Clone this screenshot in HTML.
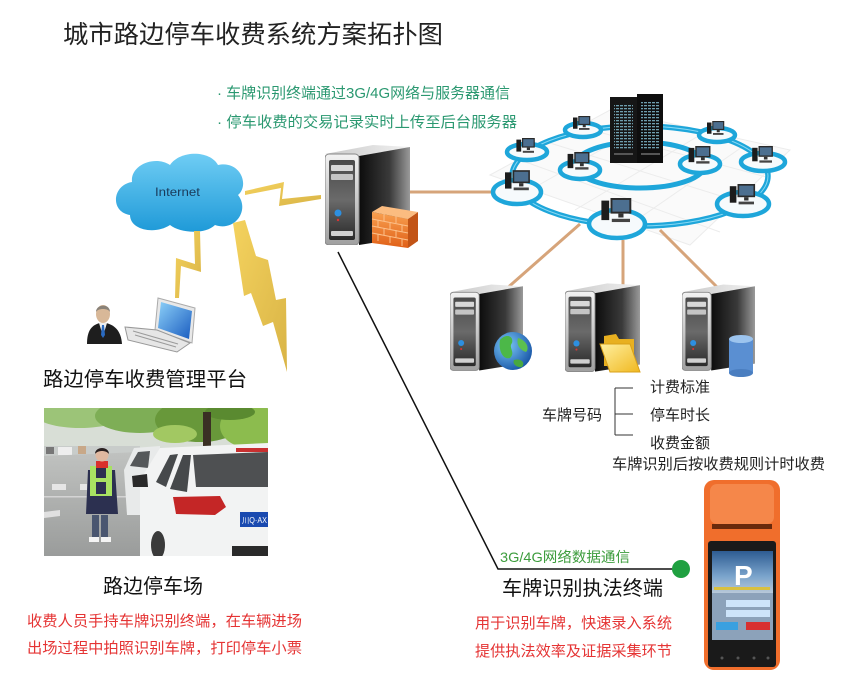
<!DOCTYPE html>
<html><head><meta charset="utf-8">
<style>
html,body{margin:0;padding:0;background:#fff;}
svg{display:block}
text{font-family:"Liberation Sans","Noto Sans CJK SC",sans-serif;}
</style></head><body>
<svg width="850" height="691" viewBox="0 0 850 691" xmlns="http://www.w3.org/2000/svg">
<defs>
 <linearGradient id="gTop" x1="0" y1="0" x2="1" y2="0"><stop offset="0" stop-color="#c8c8c8"/><stop offset="1" stop-color="#f2f2f2"/></linearGradient>
 <linearGradient id="gSide" x1="0" y1="0" x2="1" y2="0"><stop offset="0" stop-color="#0c0c0c"/><stop offset="0.6" stop-color="#3a3a3a"/><stop offset="1" stop-color="#9a9a9a"/></linearGradient>
 <linearGradient id="gFront" x1="0" y1="0" x2="0" y2="1"><stop offset="0" stop-color="#f2f2f2"/><stop offset="1" stop-color="#a0a0a0"/></linearGradient>
 <linearGradient id="gInner" x1="0" y1="0" x2="0" y2="1"><stop offset="0" stop-color="#4a4a4a"/><stop offset="0.5" stop-color="#6a6a6a"/><stop offset="1" stop-color="#2a2a2a"/></linearGradient>
 <linearGradient id="gCloud" x1="0" y1="0" x2="0" y2="1"><stop offset="0" stop-color="#6fcdf4"/><stop offset="1" stop-color="#1f9ad8"/></linearGradient>
 <linearGradient id="gBolt" x1="0" y1="0" x2="1" y2="1"><stop offset="0" stop-color="#f4d25e"/><stop offset="1" stop-color="#d9b446"/></linearGradient>
 <linearGradient id="gFire" x1="0" y1="0" x2="0" y2="1"><stop offset="0" stop-color="#f8a050"/><stop offset="1" stop-color="#e06018"/></linearGradient>
 <linearGradient id="gScreen" x1="0" y1="0" x2="1" y2="1"><stop offset="0" stop-color="#8cd0f8"/><stop offset="1" stop-color="#1a5cc0"/></linearGradient>
 <linearGradient id="gSky" x1="0" y1="0" x2="0" y2="1"><stop offset="0" stop-color="#2e5c92"/><stop offset="0.6" stop-color="#7aa4cc"/><stop offset="1" stop-color="#b8c8d8"/></linearGradient>
 <linearGradient id="gFolder" x1="0" y1="0" x2="1" y2="1"><stop offset="0" stop-color="#fff0a0"/><stop offset="1" stop-color="#f0b820"/></linearGradient>
 <linearGradient id="gRoad" x1="0" y1="0" x2="0" y2="1"><stop offset="0" stop-color="#c0c2c0"/><stop offset="1" stop-color="#9a9c9b"/></linearGradient>
 <radialGradient id="gGlobe" cx="0.35" cy="0.35" r="0.7"><stop offset="0" stop-color="#7cc8f8"/><stop offset="1" stop-color="#1a58a8"/></radialGradient>
 <pattern id="rackp" width="4" height="3" patternUnits="userSpaceOnUse"><rect width="3" height="1.3" fill="#6e9eae"/></pattern>
 <clipPath id="photoClip"><rect x="44" y="408" width="224" height="148"/></clipPath>
 <symbol id="srv" viewBox="0 0 85 100">
  <polygon points="0,9 48,0 85,2 34,11" fill="url(#gTop)"/>
  <polygon points="34,11 85,2 85,92 34,100" fill="url(#gSide)"/>
  <rect x="0" y="9" width="34" height="91" rx="4" fill="url(#gFront)" stroke="#888" stroke-width="1"/>
  <rect x="4" y="15" width="26" height="80" rx="2" fill="url(#gInner)"/>
  <rect x="6" y="20" width="22" height="6" rx="1" fill="#d8d8d8"/>
  <rect x="6" y="29" width="22" height="6" rx="1" fill="#c4c4c4"/>
  <circle cx="13" cy="68" r="3.5" fill="#2d8fe0"/>
  <circle cx="13" cy="75" r="1.2" fill="#d33"/>
  <rect x="6" y="86" width="22" height="5" rx="1" fill="#d0d0d0"/>
 </symbol>
 <symbol id="pc" viewBox="0 0 24 20">
  <rect x="0" y="2" width="6" height="15" fill="#1c1c1c"/>
  <rect x="7" y="0" width="16" height="12" fill="#2a2a2a"/>
  <rect x="8.5" y="1.5" width="13" height="9" fill="#4c6f90"/>
  <rect x="13" y="12" width="4" height="3" fill="#333"/>
  <rect x="8" y="16" width="14" height="2.5" fill="#444"/>
 </symbol>
</defs>

<!-- Title -->
<text x="63" y="43" font-size="25" fill="#222" textLength="380" lengthAdjust="spacingAndGlyphs">城市路边停车收费系统方案拓扑图</text>

<!-- Bullets -->
<text x="217" y="98" font-size="15" fill="#2a9870" textLength="293" lengthAdjust="spacingAndGlyphs">· 车牌识别终端通过3G/4G网络与服务器通信</text>
<text x="217" y="127" font-size="15" fill="#2a9870" textLength="300" lengthAdjust="spacingAndGlyphs">· 停车收费的交易记录实时上传至后台服务器</text>

<!-- floor grid -->
<g stroke="#ececec" stroke-width="1" fill="none">
 <polygon points="490,175 610,110 790,150 690,245" fill="#fafafa"/>
 <line x1="520" y1="160" x2="720" y2="232"/>
 <line x1="550" y1="143" x2="750" y2="205"/>
 <line x1="580" y1="127" x2="770" y2="178"/>
 <line x1="530" y1="190" x2="650" y2="122"/>
 <line x1="575" y1="210" x2="700" y2="135"/>
 <line x1="625" y1="228" x2="745" y2="145"/>
</g>

<!-- tan connectors -->
<g stroke="#d6a47a" stroke-width="3" fill="none">
 <line x1="410" y1="192" x2="500" y2="192"/>
 <line x1="580" y1="224" x2="505" y2="290"/>
 <line x1="623" y1="240" x2="623" y2="290"/>
 <line x1="660" y1="230" x2="717" y2="287"/>
</g>

<!-- rings -->
<ellipse cx="640" cy="176" rx="128" ry="50" fill="none" stroke="#1ea6da" stroke-width="5.5"/>
<ellipse cx="640" cy="176" rx="128" ry="50" fill="none" stroke="#86d8f4" stroke-width="1"/>
<ellipse cx="640" cy="165" rx="65" ry="23" fill="none" stroke="#1ea6da" stroke-width="5"/>

<!-- server rack -->
<rect x="610" y="97" width="27" height="66" fill="#161616"/>
<rect x="637" y="94" width="26" height="69" fill="#0e0e0e"/>
<rect x="614" y="104" width="19" height="46" fill="url(#rackp)"/>
<rect x="641" y="101" width="19" height="48" fill="url(#rackp)"/>
<rect x="614" y="153" width="19" height="2" fill="#555"/>
<rect x="641" y="153" width="19" height="2" fill="#555"/>

<!-- nodes -->
<g fill="#f6fafc" stroke="#1ea6da" stroke-width="4.5">
 <ellipse cx="583" cy="130" rx="18" ry="7"/>
 <ellipse cx="527" cy="152" rx="20" ry="8"/>
 <ellipse cx="517" cy="192" rx="24" ry="12"/>
 <ellipse cx="617" cy="224" rx="28" ry="14"/>
 <ellipse cx="717" cy="135" rx="18" ry="7"/>
 <ellipse cx="763" cy="162" rx="22" ry="9"/>
 <ellipse cx="743" cy="204" rx="26" ry="12"/>
 <ellipse cx="580" cy="170" rx="20" ry="9"/>
 <ellipse cx="700" cy="164" rx="20" ry="9"/>
</g>
<use href="#pc" x="573" y="116" width="18" height="15"/>
<use href="#pc" x="516" y="138" width="20" height="16"/>
<use href="#pc" x="505" y="170" width="26" height="22"/>
<use href="#pc" x="601" y="198" width="32" height="26"/>
<use href="#pc" x="707" y="121" width="18" height="15"/>
<use href="#pc" x="752" y="146" width="22" height="18"/>
<use href="#pc" x="729" y="184" width="28" height="22"/>
<use href="#pc" x="567" y="152" width="24" height="19"/>
<use href="#pc" x="688" y="146" width="24" height="19"/>

<!-- central server + firewall -->
<use href="#srv" x="325" y="145" width="85" height="100"/>
<polygon points="372,212 408,219 408,248 372,243" fill="url(#gFire)"/>
<polygon points="408,219 418,212 418,241 408,248" fill="#c25416"/>
<polygon points="372,212 382,206 418,212 408,219" fill="#fbbc80"/>
<g stroke="#fcc08a" stroke-width="1" fill="none">
 <line x1="372" y1="219" x2="408" y2="226"/>
 <line x1="372" y1="226" x2="408" y2="233"/>
 <line x1="372" y1="233" x2="408" y2="240"/>
 <line x1="384" y1="214" x2="384" y2="221"/>
 <line x1="396" y1="216" x2="396" y2="223"/>
 <line x1="378" y1="220" x2="378" y2="227"/>
 <line x1="390" y1="222" x2="390" y2="229"/>
 <line x1="402" y1="225" x2="402" y2="232"/>
 <line x1="384" y1="228" x2="384" y2="235"/>
 <line x1="396" y1="230" x2="396" y2="237"/>
 <line x1="378" y1="234" x2="378" y2="241"/>
 <line x1="390" y1="236" x2="390" y2="243"/>
 <line x1="402" y1="239" x2="402" y2="246"/>
</g>

<!-- bottom servers -->
<use href="#srv" x="450" y="283" width="73" height="89"/>
<use href="#srv" x="565" y="283" width="75" height="89"/>
<use href="#srv" x="682" y="283" width="73" height="89"/>
<!-- globe -->
<circle cx="513" cy="351" r="19" fill="url(#gGlobe)"/>
<path d="M500,340 C506,333 514,336 512,343 C508,348 516,352 510,358 C504,360 498,352 500,340 Z" fill="#4cb848"/>
<path d="M518,338 C526,340 530,348 526,352 C520,350 516,345 518,338 Z" fill="#5cc050"/>
<path d="M514,360 C520,358 526,362 522,367 C517,368 512,364 514,360 Z" fill="#48a840"/>
<!-- folder -->
<polygon points="604,336 616,334 619,339 634,339 634,366 604,366" fill="#e8b020"/>
<polygon points="600,344 630,344 640,372 610,372" fill="url(#gFolder)" stroke="#d9a018" stroke-width="1"/>
<!-- db -->
<rect x="729" y="339" width="24" height="34" fill="#5a8fd2"/>
<ellipse cx="741" cy="373" rx="12" ry="4" fill="#4a7ec0"/>
<ellipse cx="741" cy="339" rx="12" ry="4" fill="#9cc4ee"/>

<!-- labels near servers -->
<text x="542" y="420" font-size="15" fill="#222" textLength="60" lengthAdjust="spacingAndGlyphs">车牌号码</text>
<g stroke="#333" stroke-width="1" fill="none">
 <line x1="615" y1="388" x2="615" y2="435"/>
 <line x1="615" y1="388" x2="633" y2="388"/>
 <line x1="615" y1="414" x2="633" y2="414"/>
 <line x1="615" y1="435" x2="633" y2="435"/>
</g>
<text x="650" y="392" font-size="15" fill="#222" textLength="60" lengthAdjust="spacingAndGlyphs">计费标准</text>
<text x="650" y="420" font-size="15" fill="#222" textLength="60" lengthAdjust="spacingAndGlyphs">停车时长</text>
<text x="650" y="448" font-size="15" fill="#222" textLength="60" lengthAdjust="spacingAndGlyphs">收费金额</text>
<text x="612" y="469" font-size="15" fill="#222" textLength="213" lengthAdjust="spacingAndGlyphs">车牌识别后按收费规则计时收费</text>

<!-- cloud -->
<path d="M130,215 C110,212 112,185 132,182 C130,165 155,155 170,165 C180,150 210,150 218,165 C240,160 250,185 238,195 C250,210 235,232 215,225 C205,235 180,233 170,225 C155,235 130,230 130,215 Z" fill="url(#gCloud)"/>
<text x="155" y="196" font-size="12" fill="#1a3a5a" textLength="45" lengthAdjust="spacingAndGlyphs">Internet</text>

<!-- bolts -->
<polygon points="245,191 284,182 282,199 321,195 321,199 279,206 281,188 245,195" fill="url(#gBolt)"/>
<polygon points="194,231 200,231 201,272 181,266 179,298 175,298 176,258 195,264" fill="url(#gBolt)"/>
<polygon points="233,223 245,220 256,256 268,260 276,300 286,298 287,372 273,322 263,326 251,293 244,296" fill="url(#gBolt)"/>

<!-- person -->
<path d="M87,344 C87,330 92,325 100,323 L106,323 C114,325 121,330 122,344 Z" fill="#1e1e1e"/>
<polygon points="99,323 107,323 103,336" fill="#eee"/>
<polygon points="102,325 104,325 105,335 103,338 101,335" fill="#2a6ac0"/>
<ellipse cx="103" cy="314" rx="7" ry="9" fill="#d8b898"/>
<path d="M96,312 C96,304 110,303 110,312 C108,308 98,308 96,312 Z" fill="#8a8278"/>

<!-- laptop -->
<polygon points="158,298 195,308 192,343 155,330" fill="#e8e8e8" stroke="#aaa" stroke-width="1"/>
<polygon points="161,302 192,311 189,339 158,328" fill="url(#gScreen)"/>
<polygon points="125,327 157,330 190,343 177,352 128,340" fill="#e6e6e6" stroke="#999" stroke-width="1"/>
<g stroke="#9a9a9a" stroke-width="1">
 <line x1="133" y1="331" x2="178" y2="344"/>
 <line x1="135" y1="335" x2="176" y2="347"/>
</g>

<text x="43" y="386" font-size="20" fill="#111" textLength="204" lengthAdjust="spacingAndGlyphs">路边停车收费管理平台</text>

<!-- photo -->
<g clip-path="url(#photoClip)">
 <rect x="44" y="408" width="224" height="148" fill="url(#gRoad)"/>
 <rect x="44" y="408" width="224" height="48" fill="#d8ded6"/>
 <ellipse cx="80" cy="414" rx="45" ry="14" fill="#9cc478"/>
 <ellipse cx="140" cy="416" rx="45" ry="17" fill="#7eae56"/>
 <ellipse cx="200" cy="420" rx="45" ry="22" fill="#68983a"/>
 <ellipse cx="250" cy="426" rx="30" ry="22" fill="#8cbc4e"/>
 <ellipse cx="175" cy="434" rx="22" ry="9" fill="#a2c862"/>
 <ellipse cx="230" cy="412" rx="25" ry="8" fill="#5a8a30"/>
 <rect x="203" y="412" width="8" height="34" fill="#3a3024"/>
 <rect x="44" y="446" width="96" height="10" fill="#c8ccca"/>
 <rect x="58" y="447" width="14" height="8" fill="#eeeeee"/>
 <rect x="46" y="447" width="8" height="7" fill="#777"/>
 <rect x="78" y="446" width="8" height="8" fill="#c8a888"/>
 <polygon points="44,456 140,452 140,556 44,556" fill="url(#gRoad)"/>
 <rect x="52" y="484" width="14" height="6" fill="#e6e6e6"/>
 <rect x="80" y="484" width="7" height="6" fill="#e6e6e6"/>
 <polygon points="44,512 60,510 60,516 44,518" fill="#e0e0e0"/>
 <rect x="44" y="496" width="96" height="1.5" fill="#d4d4d4"/>
 <!-- back car -->
 <polygon points="124,470 134,448 160,446 160,515 127,515" fill="#e8eaea"/>
 <polygon points="130,466 138,452 150,451 148,468" fill="#55585a"/>
 <!-- big white car -->
 <polygon points="140,480 160,448 268,443 268,556 140,556" fill="#f2f3f3"/>
 <polygon points="156,482 170,455 178,454 166,487" fill="#46494b"/>
 <polygon points="170,489 183,455 191,455 187,492" fill="#46494b"/>
 <polygon points="193,455 268,452 268,487 196,487" fill="#4e5052"/>
 <rect x="236" y="448" width="32" height="4" fill="#c83030"/>
 <polygon points="173,497 220,496 226,507 215,515 176,514" fill="#c42626"/>
 <rect x="240" y="512" width="28" height="15" fill="#1a4ab0"/>
 <text x="242" y="523" font-size="8" fill="#fff" textLength="25" lengthAdjust="spacingAndGlyphs">川Q·AX</text>
 <polygon points="132,476 147,474 148,487 133,487" fill="#2a2a2a"/>
 <ellipse cx="158" cy="545" rx="7" ry="14" fill="#3a3a3a"/>
 <rect x="232" y="546" width="36" height="10" fill="#2a2a2a"/>
 <!-- woman -->
 <rect x="92" y="515" width="7" height="23" fill="#4a5670"/>
 <rect x="101" y="515" width="7" height="23" fill="#4a5670"/>
 <rect x="89" y="537" width="10" height="5" fill="#f4f4f4"/>
 <rect x="101" y="537" width="10" height="5" fill="#f4f4f4"/>
 <path d="M88,470 L115,470 L118,514 L86,514 Z" fill="#2c3050"/>
 <rect x="90" y="466" width="22" height="30" fill="#a8e262"/>
 <rect x="96" y="466" width="10" height="28" fill="#2c3050"/>
 <rect x="96" y="478" width="10" height="4" fill="#a8e262"/>
 <rect x="96" y="461" width="12" height="7" fill="#d8302c"/>
 <circle cx="102" cy="455" r="6.5" fill="#e0b8a0"/>
 <path d="M95,454 C95,446 109,446 109,454 C106,450 98,450 95,454 Z" fill="#2a2020"/>
</g>

<text x="103" y="593" font-size="20" fill="#111" textLength="100" lengthAdjust="spacingAndGlyphs">路边停车场</text>
<text x="27" y="626" font-size="15" fill="#e53434" textLength="275" lengthAdjust="spacingAndGlyphs">收费人员手持车牌识别终端，在车辆进场</text>
<text x="27" y="653" font-size="15" fill="#e53434" textLength="275" lengthAdjust="spacingAndGlyphs">出场过程中拍照识别车牌，打印停车小票</text>

<!-- black connector -->
<polyline points="338,252 498,569 681,569" fill="none" stroke="#111" stroke-width="1.5"/>
<circle cx="681" cy="569" r="9" fill="#1fa040"/>

<text x="500" y="562" font-size="14" fill="#3c9c3c" textLength="130" lengthAdjust="spacingAndGlyphs">3G/4G网络数据通信</text>
<text x="502" y="595" font-size="20" fill="#111" textLength="161" lengthAdjust="spacingAndGlyphs">车牌识别执法终端</text>
<text x="475" y="628" font-size="15" fill="#e53434" textLength="197" lengthAdjust="spacingAndGlyphs">用于识别车牌，快速录入系统</text>
<text x="475" y="656" font-size="15" fill="#e53434" textLength="197" lengthAdjust="spacingAndGlyphs">提供执法效率及证据采集环节</text>

<!-- device -->
<rect x="704" y="480" width="76" height="190" rx="10" fill="#f06e2c"/>
<rect x="710" y="484" width="64" height="40" rx="7" fill="#f5874a"/>
<rect x="712" y="524" width="60" height="5" fill="#6a2a0c"/>
<rect x="708" y="541" width="68" height="126" rx="3" fill="#1a1a1a"/>
<rect x="712" y="551" width="61" height="42" fill="url(#gSky)"/>
<text x="734" y="585" font-size="28" font-weight="bold" fill="#fff">P</text>
<rect x="714" y="587" width="56" height="3" fill="#d8c040"/>
<rect x="712" y="593" width="61" height="47" fill="#8ca2ba"/>
<rect x="726" y="600" width="44" height="7" fill="#cde4fa"/>
<rect x="726" y="610" width="44" height="7" fill="#cde4fa"/>
<rect x="716" y="622" width="22" height="8" fill="#3aa0e0"/>
<rect x="746" y="622" width="24" height="8" fill="#d83030"/>
<g fill="#555">
 <circle cx="722" cy="658" r="1.5"/><circle cx="738" cy="658" r="1.5"/><circle cx="754" cy="658" r="1.5"/><circle cx="768" cy="658" r="1.5"/>
</g>
</svg>
</body></html>
